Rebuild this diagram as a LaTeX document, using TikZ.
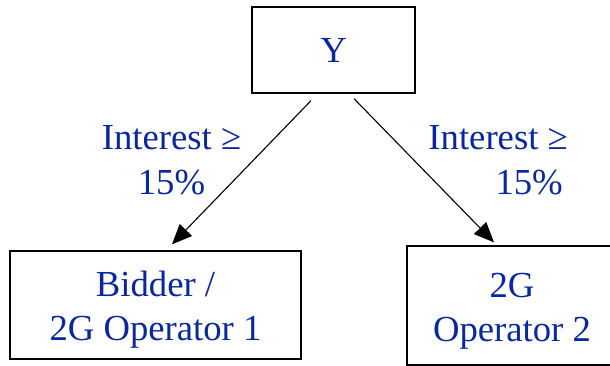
\documentclass[tikz,border=0pt]{standalone}
\usepackage{fontspec}
\setmainfont{Liberation Serif}
\usetikzlibrary{arrows.meta}
\definecolor{txtblue}{RGB}{10,40,155}
\tikzset{
  box/.style={draw=black, line width=1.3pt, inner sep=0pt, text=txtblue,
    font=\fontsize{36.7}{44}\selectfont, align=center, text depth=0pt},
  lbl/.style={inner sep=0pt, text=txtblue, font=\fontsize{36.7}{44}\selectfont,
    text depth=0pt, text height=68pt},
  arr/.style={line width=1.1pt, -{Triangle[length=20pt,width=17pt]}}
}
\begin{document}
\begin{tikzpicture}[x=1pt,y=-1pt]
\useasboundingbox (0,0) rectangle (610,366);
\node[box, minimum width=163pt, minimum height=86pt, text height=26pt] (top) at (333.5,50) {Y};
\node[box, minimum width=291pt, minimum height=108pt, text height=70pt] (b1) at (155.5,305) {Bidder /\\2G Operator 1};
\node[box, minimum width=210pt, minimum height=119pt, text height=71pt] (b2) at (512,305.5) {2G\\Operator 2};
\node[lbl, align=center] (l1) at (171.5,160) {Interest ≥\\15\%};
\node[lbl, align=right, anchor=east] (l2) at (568,160) {Interest ≥\\15\%\kern5pt};
\draw[arr] ([xshift=-22.5pt,yshift=-7pt]top.south) -- ([xshift=16.5pt,yshift=6pt]b1.north);
\draw[arr] ([xshift=20.5pt,yshift=-5pt]top.south) -- ([xshift=-18pt,yshift=3pt]b2.north);
\end{tikzpicture}
\end{document}
